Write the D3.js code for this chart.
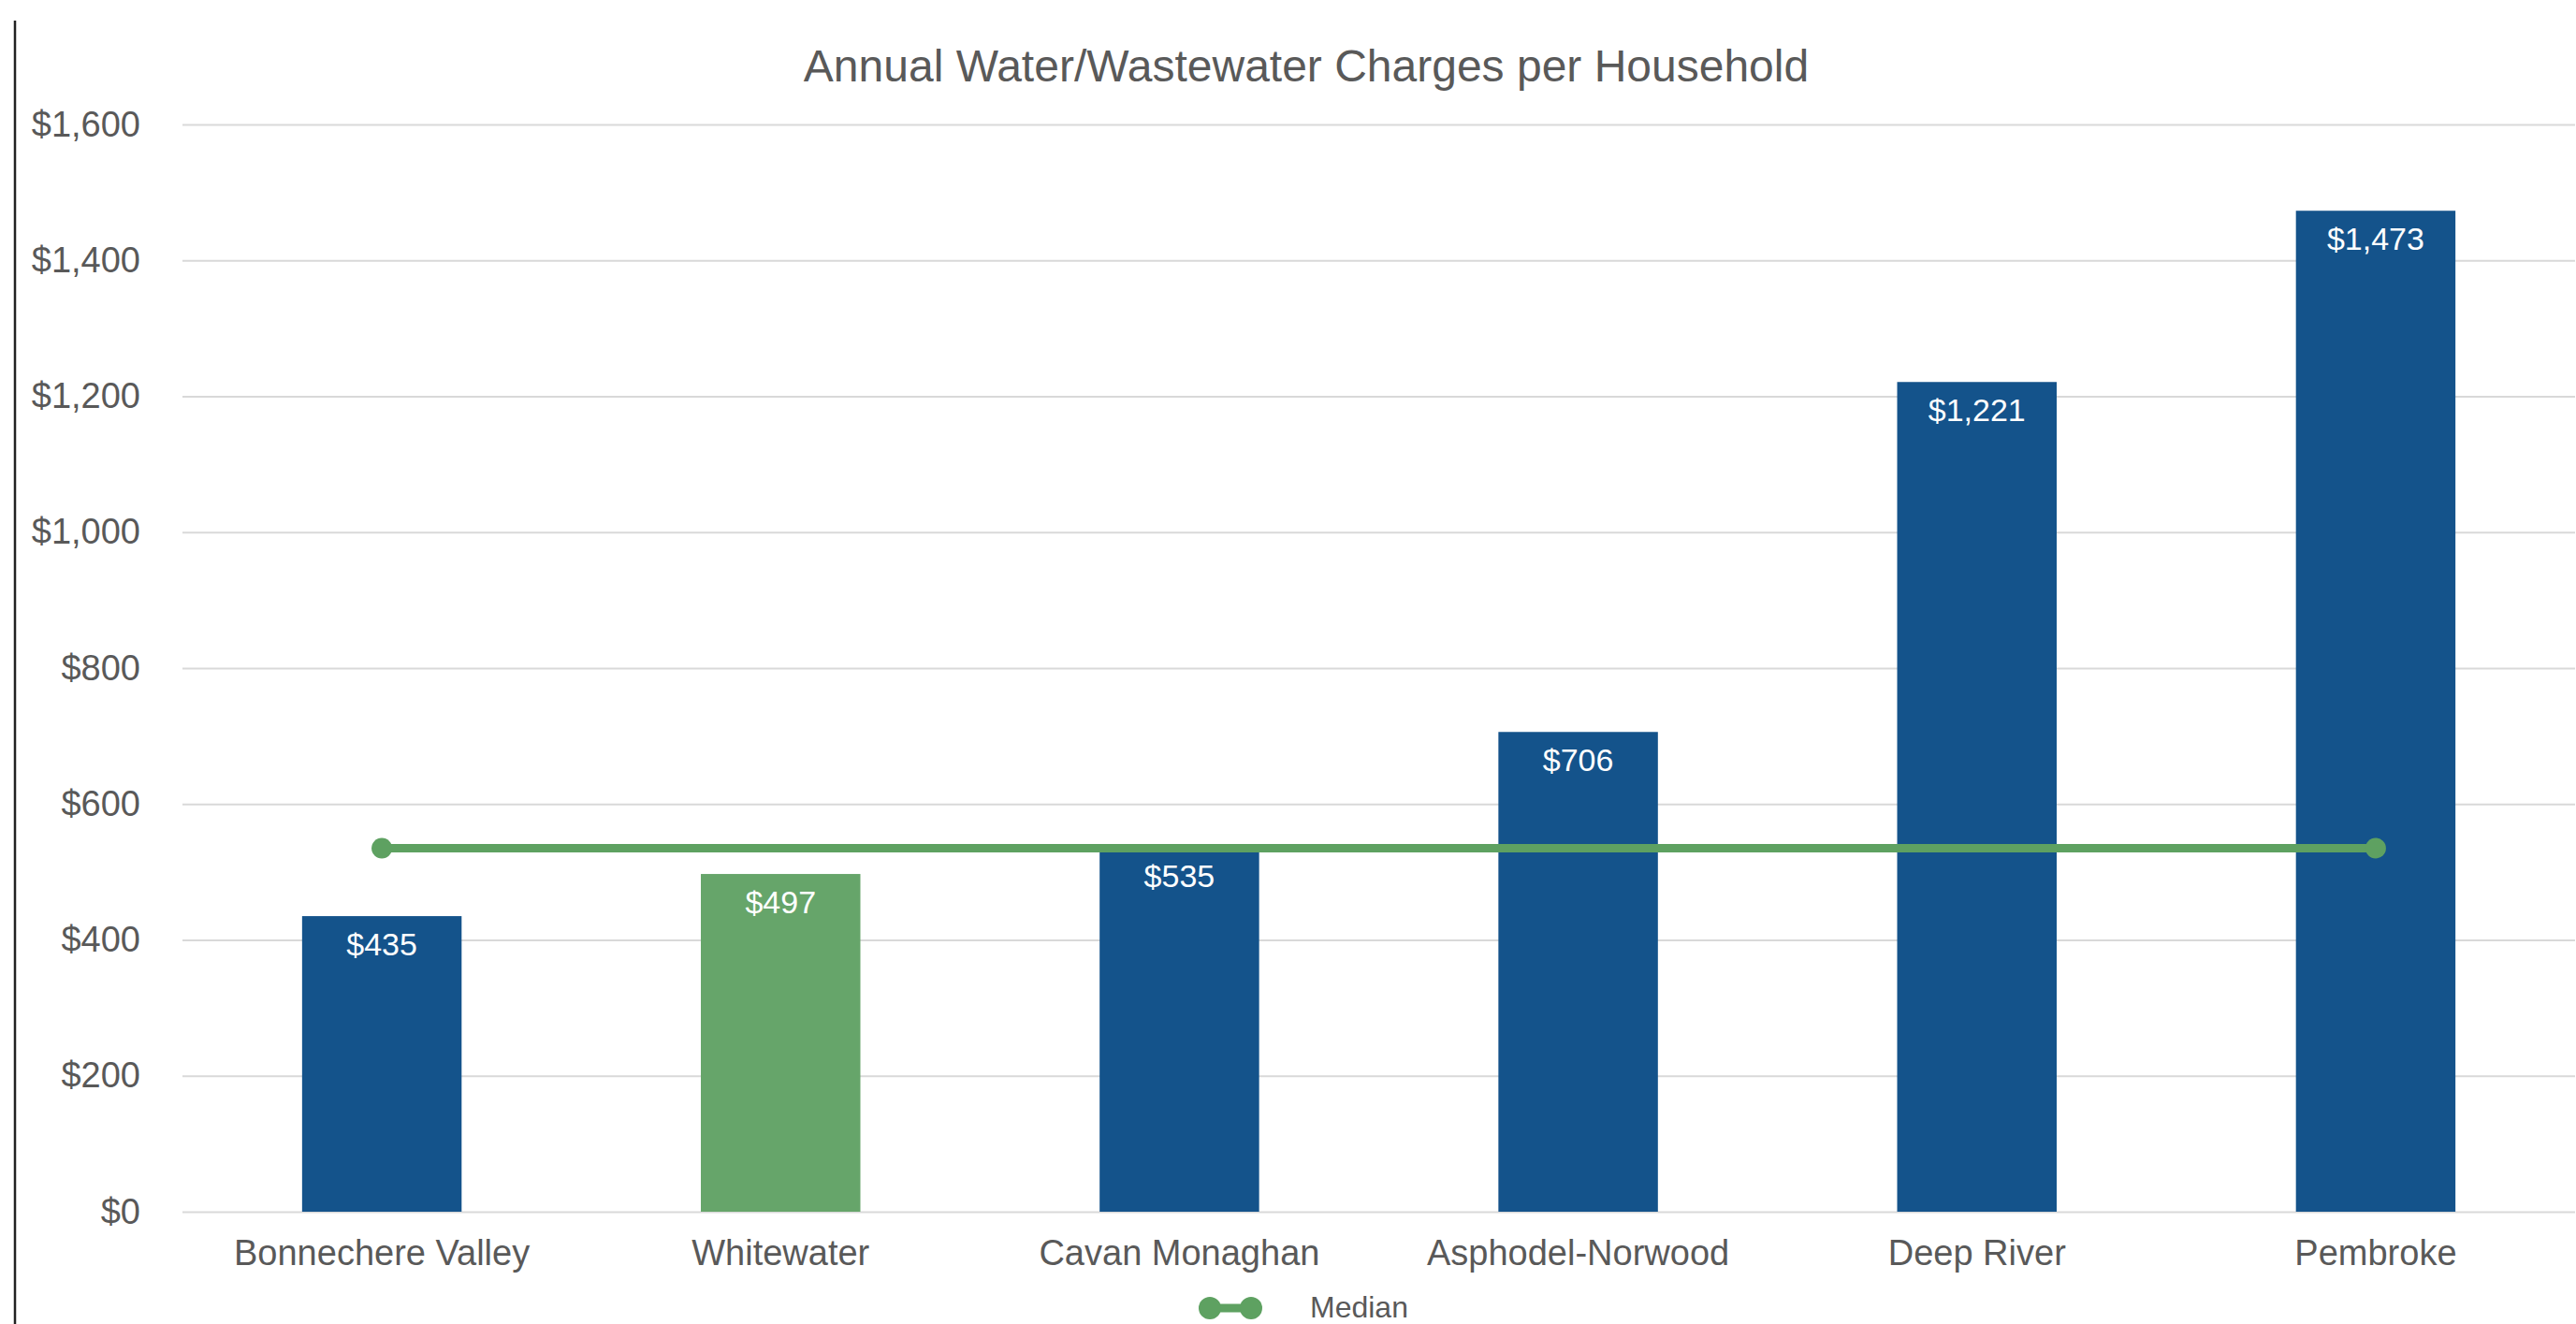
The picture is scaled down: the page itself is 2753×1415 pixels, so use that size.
<!DOCTYPE html>
<html>
<head>
<meta charset="utf-8">
<script src="https://cdn.jsdelivr.net/npm/d3@7"></script>
<style>
  html, body { margin: 0; padding: 0; background: #ffffff; }
  svg { display: block; }
</style>
</head>
<body>
<svg id="chart" width="2753" height="1415"></svg>
<script>
// ---- data ----
const categories = ["Bonnechere Valley", "Whitewater", "Cavan Monaghan", "Asphodel-Norwood", "Deep River", "Pembroke"];
const charges = [435, 497, 535, 706, 1221, 1473];
const medianValues = [535, 535, 535, 535, 535, 535];
const highlighted = ["Whitewater"];
const yTicks = [0, 200, 400, 600, 800, 1000, 1200, 1400, 1600];
const chartTitle = "Annual Water/Wastewater Charges per Household";
const legendLabel = "Median";

// ---- styles ----
const FONT = "'Liberation Sans', Arial, sans-serif";
const BLUE = "#14538b";
const GREEN_BAR = "#66a56a";
const GREEN_LINE = "#5ea161";
const TEXT = "#595959";
const GRID = "#d9d9d9";

const svg = d3.select("#chart");

const x = d3.scaleBand()
  .domain(categories)
  .range([195, 2752])
  .paddingInner(0.6)
  .paddingOuter(0.3);

const y = d3.scaleLinear()
  .domain([0, 1600])
  .range([1295, 133]);

// left frame line
svg.append("line")
  .attr("x1", 16).attr("x2", 16)
  .attr("y1", 22).attr("y2", 1415)
  .attr("stroke", "#222").attr("stroke-width", 2.5);

// title
svg.append("text")
  .attr("x", 1396).attr("y", 87)
  .attr("text-anchor", "middle")
  .attr("font-family", FONT).attr("font-size", 48)
  .attr("fill", TEXT)
  .text(chartTitle);

// y axis with gridlines
const yAxis = d3.axisLeft(y)
  .tickValues(yTicks)
  .tickSize(-(2752 - 195))
  .tickPadding(45)
  .tickFormat(d => "$" + d3.format(",")(d));

const gy = svg.append("g")
  .attr("transform", "translate(195,0)")
  .call(yAxis);
gy.select(".domain").remove();
gy.selectAll(".tick line").attr("stroke", GRID).attr("stroke-width", 2);
gy.selectAll(".tick text")
  .attr("font-family", FONT).attr("font-size", 38)
  .attr("fill", TEXT)
  .attr("dy", "0.32em");

// bars
svg.append("g").selectAll("rect")
  .data(categories)
  .join("rect")
  .attr("x", d => x(d))
  .attr("width", x.bandwidth())
  .attr("y", (d, i) => y(charges[i]))
  .attr("height", (d, i) => y(0) - y(charges[i]))
  .attr("fill", d => highlighted.includes(d) ? GREEN_BAR : BLUE);

// bar labels
svg.append("g").selectAll("text")
  .data(categories)
  .join("text")
  .attr("x", d => x(d) + x.bandwidth() / 2)
  .attr("y", (d, i) => y(charges[i]) + 42)
  .attr("text-anchor", "middle")
  .attr("font-family", FONT).attr("font-size", 34)
  .attr("fill", "#ffffff")
  .text((d, i) => "$" + d3.format(",")(charges[i]));

// x axis labels
const xAxis = d3.axisBottom(x).tickSize(0).tickPadding(30);
const gx = svg.append("g")
  .attr("transform", "translate(0,1295)")
  .call(xAxis);
gx.select(".domain").remove();
gx.selectAll(".tick text")
  .attr("font-family", FONT).attr("font-size", 38)
  .attr("fill", TEXT);

// median line
const cx = d => x(d) + x.bandwidth() / 2;
const line = d3.line()
  .x((d, i) => cx(categories[i]))
  .y(d => y(d));
svg.append("path")
  .datum(medianValues)
  .attr("d", line)
  .attr("fill", "none")
  .attr("stroke", GREEN_LINE)
  .attr("stroke-width", 9);

const endIdx = [0, categories.length - 1];
svg.append("g").selectAll("circle")
  .data(endIdx)
  .join("circle")
  .attr("cx", i => cx(categories[i]))
  .attr("cy", i => y(medianValues[i]))
  .attr("r", 11)
  .attr("fill", GREEN_LINE);

// legend
const lg = svg.append("g");
lg.append("line")
  .attr("x1", 1292).attr("x2", 1338)
  .attr("y1", 1398).attr("y2", 1398)
  .attr("stroke", GREEN_LINE).attr("stroke-width", 9);
lg.selectAll("circle")
  .data([1293, 1337])
  .join("circle")
  .attr("cx", d => d).attr("cy", 1398)
  .attr("r", 12)
  .attr("fill", GREEN_LINE);
lg.append("text")
  .attr("x", 1400).attr("y", 1408)
  .attr("font-family", FONT).attr("font-size", 32)
  .attr("fill", TEXT)
  .text(legendLabel);
</script>
</body>
</html>
